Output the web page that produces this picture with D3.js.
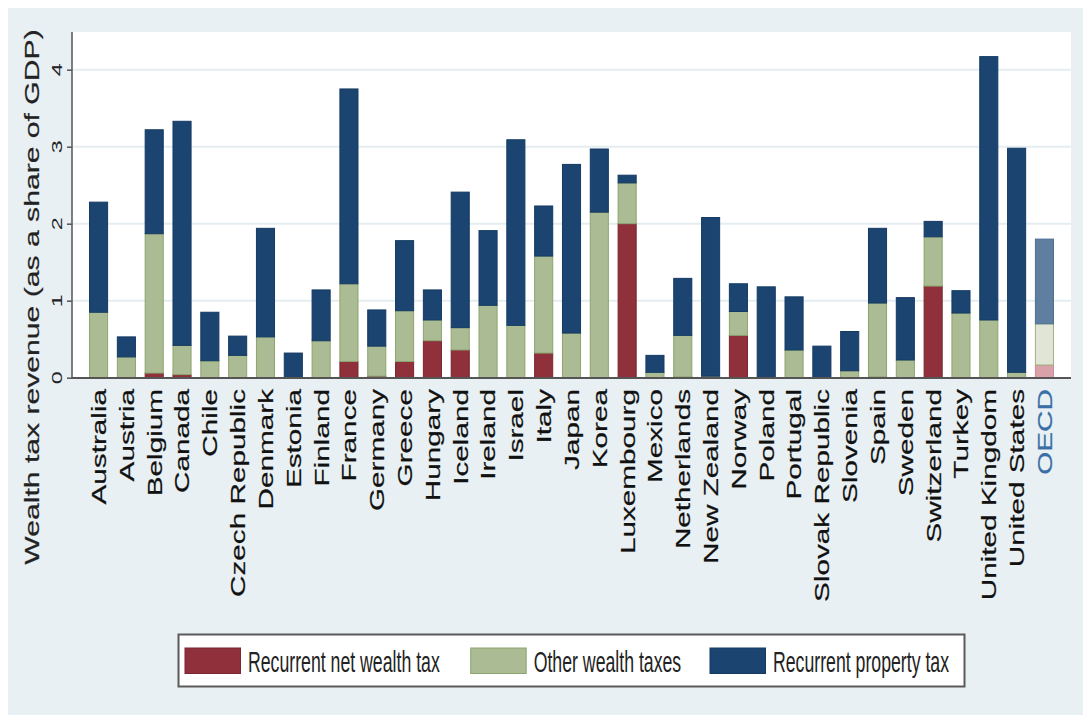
<!DOCTYPE html>
<html>
<head>
<meta charset="utf-8">
<script src="https://cdn.jsdelivr.net/npm/d3@7"></script>
<style>
  html, body { margin: 0; padding: 0; background: #ffffff; }
  svg { display: block; }
  text { font-family: "Liberation Sans", Arial, sans-serif; }
</style>
</head>
<body>
<svg id="chart" width="1086" height="723"></svg>
<script>
const countries = ["Australia","Austria","Belgium","Canada","Chile","Czech Republic","Denmark","Estonia","Finland","France","Germany","Greece","Hungary","Iceland","Ireland","Israel","Italy","Japan","Korea","Luxembourg","Mexico","Netherlands","New Zealand","Norway","Poland","Portugal","Slovak Republic","Slovenia","Spain","Sweden","Switzerland","Turkey","United Kingdom","United States","OECD"];

const netWealthTax = [0,0,0.06,0.04,0,0,0,0,0,0.21,0.02,0.21,0.48,0.36,0,0,0.32,0,0,2.00,0,0.01,0,0.55,0,0,0,0,0.01,0,1.19,0,0,0,0.165];
const otherWealthTaxes = [0.85,0.27,1.81,0.38,0.22,0.29,0.53,0,0.48,1.01,0.39,0.66,0.27,0.29,0.94,0.68,1.26,0.58,2.15,0.53,0.07,0.54,0.02,0.31,0,0.36,0,0.09,0.96,0.23,0.64,0.84,0.75,0.07,0.535];
const propertyTax = [1.43,0.26,1.35,2.91,0.63,0.25,1.41,0.32,0.66,2.53,0.47,0.91,0.39,1.76,0.97,2.41,0.65,2.19,0.82,0.10,0.22,0.74,2.06,0.36,1.18,0.69,0.41,0.51,0.97,0.81,0.20,0.29,3.42,2.91,1.10];

const seriesNames = ["Recurrent net wealth tax","Other wealth taxes","Recurrent property tax"];
const yTicks = [0,1,2,3,4];
const yTitle = "Wealth tax revenue (as a share of GDP)";
const highlight = "OECD";

const fills = ["#8f303a","#abbb93","#1b4570"];
const strokes = ["#7a2530","#8ca56f","#143a63"];
const fillsHL = ["#d9a1a9","#e0e5d5","#5f7fa0"];
const strokesHL = ["#c98d95","#9fb27f","#4d6e92"];

const svg = d3.select("#chart");
const K = 1.5;
const KL = 1.62;

svg.append("rect").attr("x",8).attr("y",8).attr("width",1075).attr("height",707).attr("fill","#e8f0f3");

const plotL = 72, plotR = 1071, plotB = 378, plotT = 32;
svg.append("rect").attr("x",plotL).attr("y",plotT).attr("width",plotR-plotL).attr("height",plotB-plotT).attr("fill","#ffffff");

const x = d3.scaleBand().domain(countries).range([plotL, plotR]).paddingInner(0.35).paddingOuter(0.63);
const y = d3.scaleLinear().domain([0,4]).range([377.7, 69.7]);

svg.append("g").selectAll("line").data(yTicks.filter(d=>d>0)).join("line")
  .attr("x1",plotL).attr("x2",plotR).attr("y1",d=>y(d)).attr("y2",d=>y(d))
  .attr("stroke","#e4edf0").attr("stroke-width",2);

const rows = countries.map((c,i)=>({country:c, v:[netWealthTax[i], otherWealthTaxes[i], propertyTax[i]]}));
const stack = d3.stack().keys([0,1,2]).value((d,k)=>d.v[k]);
const stacked = stack(rows);

const gBars = svg.append("g");
stacked.forEach((layer, k) => {
  gBars.append("g").selectAll("rect").data(layer.filter(d => d[1]-d[0] > 0)).join("rect")
    .attr("x", d => x(d.data.country))
    .attr("width", x.bandwidth())
    .attr("y", d => y(d[1]))
    .attr("height", d => Math.max(0.5, y(d[0]) - y(d[1])))
    .attr("fill", d => d.data.country === highlight ? fillsHL[k] : fills[k])
    .attr("stroke", d => d.data.country === highlight ? strokesHL[k] : strokes[k])
    .attr("stroke-width", 1);
});

const yAxis = d3.axisLeft(y).tickValues(yTicks).tickSize(5).tickFormat("");
const gy = svg.append("g").attr("transform", `translate(${plotL},0)`).call(yAxis);
gy.select(".domain").remove();
gy.selectAll(".tick line").attr("stroke","#555").attr("stroke-width",1.5);
svg.append("line").attr("x1",plotL).attr("x2",plotL).attr("y1",plotT).attr("y2",plotB+1)
  .attr("stroke","#555").attr("stroke-width",1.5);

svg.append("g").selectAll("text").data(yTicks).join("text")
  .attr("transform", d => `translate(62,${y(d)}) scale(1,${K}) rotate(-90)`)
  .attr("text-anchor","middle")
  .attr("font-size", 15.5)
  .attr("fill","#222")
  .text(d => d);

svg.append("text")
  .attr("transform", `translate(39,297) scale(1,${K}) rotate(-90)`)
  .attr("text-anchor","middle")
  .attr("font-size", 20.1)
  .attr("fill","#222")
  .attr("stroke","#222").attr("stroke-width",0.2)
  .text(yTitle);

const xAxis = d3.axisBottom(x).tickSize(0).tickFormat("");
const gx = svg.append("g").attr("transform", `translate(0,${plotB})`).call(xAxis);
gx.select(".domain").remove();
svg.append("line").attr("x1",plotL).attr("x2",plotR).attr("y1",plotB).attr("y2",plotB)
  .attr("stroke","#555").attr("stroke-width",2);

svg.append("g").selectAll("text").data(countries).join("text")
  .attr("transform", d => `translate(${x(d)+x.bandwidth()/2+7.4},389) scale(1,${K}) rotate(-90)`)
  .attr("text-anchor","end")
  .attr("font-size", 19.8)
  .attr("fill", d => d === highlight ? "#3a6fa6" : "#111")
  .attr("stroke", d => d === highlight ? "#3a6fa6" : "#111").attr("stroke-width",0.2)
  .text(d => d);

const lg = svg.append("g");
lg.append("rect").attr("x",178.5).attr("y",634.5).attr("width",786).attr("height",52)
  .attr("fill","#ffffff").attr("stroke","#5a5a5a").attr("stroke-width",2);
const legX = [185, 470.7, 710];
seriesNames.forEach((name,k) => {
  lg.append("rect").attr("x",legX[k]).attr("y",648).attr("width",55.5).attr("height",25.5)
    .attr("fill",fills[k]).attr("stroke",strokes[k]).attr("stroke-width",1);
  lg.append("text")
    .attr("transform", `translate(${legX[k]+63},672) scale(1,${KL})`)
    .attr("font-size", 17.7)
    .attr("fill","#222")
    .text(name);
});
</script>
</body>
</html>
